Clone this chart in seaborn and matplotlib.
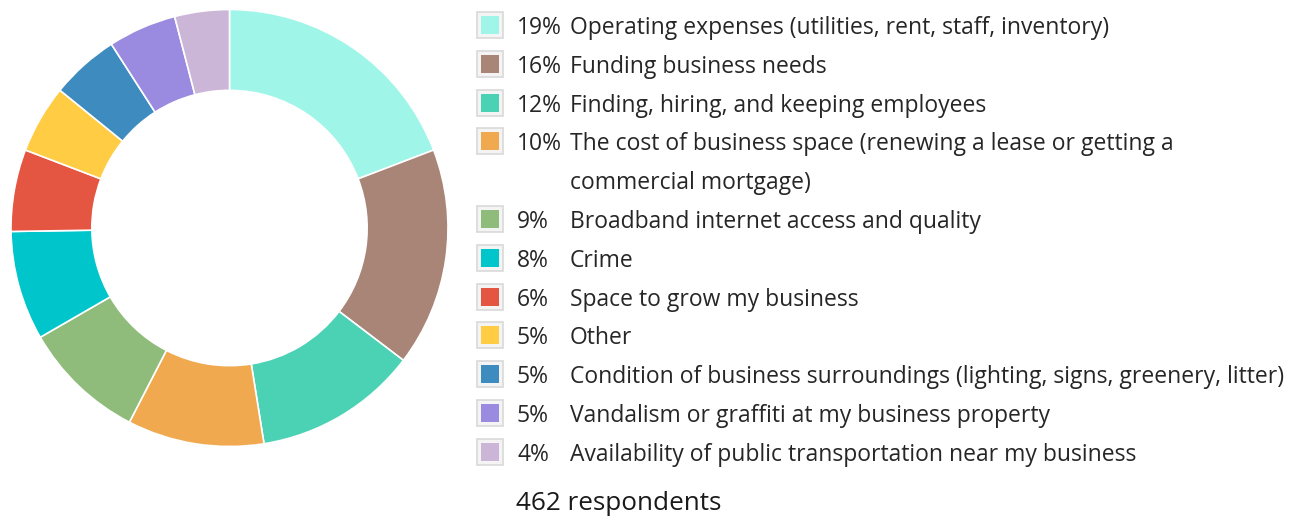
import matplotlib
matplotlib.use("Agg")
import matplotlib.pyplot as plt
from matplotlib.patches import Rectangle
import seaborn as sns

# survey answers, in the order they appear (clockwise from 12 o'clock)
labels = [
    "Operating expenses (utilities, rent, staff, inventory)",
    "Funding business needs",
    "Finding, hiring, and keeping employees",
    "The cost of business space (renewing a lease or getting a\ncommercial mortgage)",
    "Broadband internet access and quality",
    "Crime",
    "Space to grow my business",
    "Other",
    "Condition of business surroundings (lighting, signs, greenery, litter)",
    "Vandalism or graffiti at my business property",
    "Availability of public transportation near my business",
]
pct = [19, 16, 12, 10, 9, 8, 6, 5, 5, 5, 4]
hex_colors = ["#9ff5e8", "#a98577", "#4bd1b4", "#f0a94e", "#8fbb7b", "#00c5ca",
              "#e45641", "#ffcc44", "#3d8bbf", "#9b8be0", "#cbb6d8"]
respondents = 462

sns.set_theme(style="white")
plt.rcParams["font.family"] = ["Open Sans", "DejaVu Sans"]
colors = sns.color_palette(hex_colors)

W, H = 1301, 518
fig = plt.figure(figsize=(W / 100, H / 100), dpi=100)

# donut
cx, cy, r = 229.5, 228, 218.5
ax = fig.add_axes([(cx - r) / W, (H - cy - r) / H, 2 * r / W, 2 * r / H])
ax.pie(pct, colors=colors, startangle=90, counterclock=False, radius=1,
       wedgeprops=dict(width=0.37, edgecolor="white", linewidth=1.2))
ax.set_xlim(-1, 1)
ax.set_ylim(-1, 1)
ax.set_aspect("equal")
ax.axis("off")

# legend drawn in pixel space
lg = fig.add_axes([0, 0, 1, 1])
lg.set_xlim(0, W)
lg.set_ylim(H, 0)
lg.axis("off")

txt_color = "#262626"
fs = 16.5
row_h = 38.8
y = 25
for p, lab, col in zip(pct, labels, colors):
    lg.add_patch(Rectangle((477, y - 13), 26, 26, facecolor="#f4f4f4",
                           edgecolor="#d9d9d9", linewidth=1.2))
    lg.add_patch(Rectangle((481, y - 9), 18, 18, facecolor=col, edgecolor="none"))
    lg.text(517, y + 3, f"{p}%", fontsize=fs, color=txt_color, va="center", ha="left")
    ty = y
    for line in lab.split("\n"):
        lg.text(570, ty + 3, line, fontsize=fs, color=txt_color, va="center", ha="left")
        ty += row_h
    y = ty

lg.text(516, 503, f"{respondents} respondents", fontsize=18.8, color="#1a1a1a",
        va="center", ha="left")

fig.savefig("out.png", dpi=100, facecolor="white")
